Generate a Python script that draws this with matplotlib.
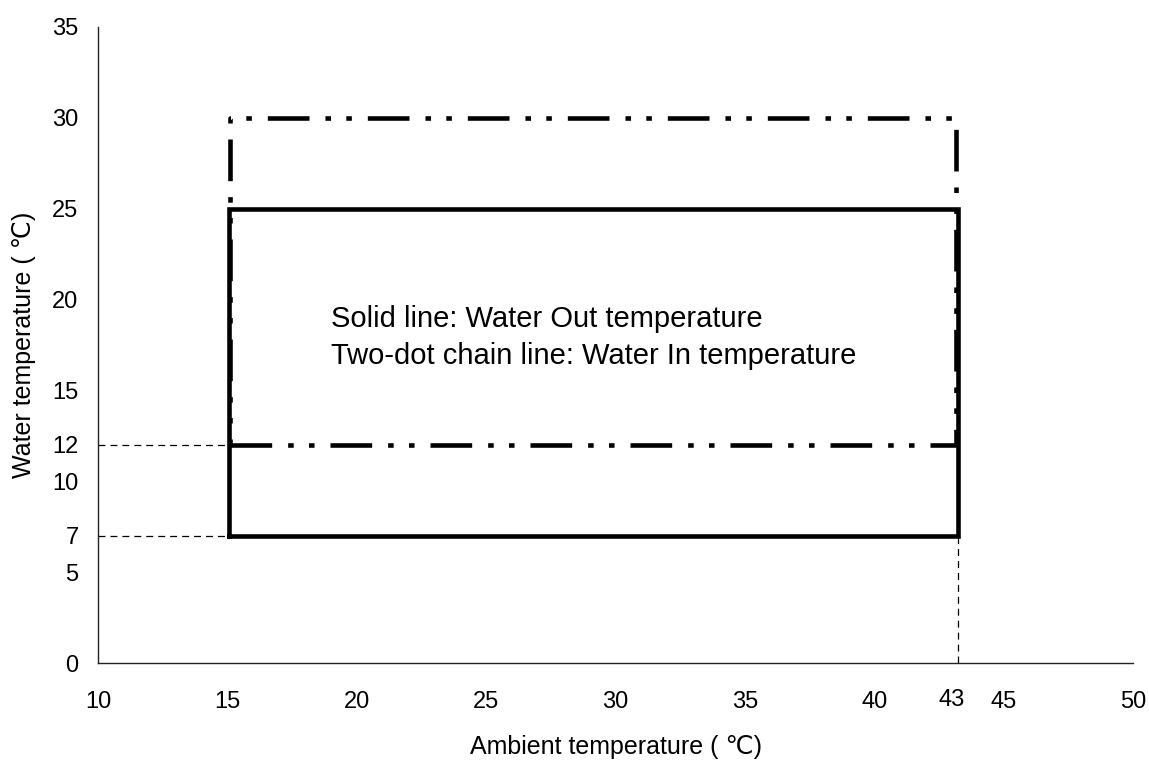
import matplotlib.pyplot as plt

plt.rcParams['font.family'] = ['Liberation Sans', 'DejaVu Sans']
plt.rcParams['lines.scale_dashes'] = False

# Water Out range (solid)
out_x = [15.05, 43.25, 43.25, 15.05, 15.05]
out_y = [7, 7, 25, 25, 7]
# Water In range (two-dot chain)
in_x = [15.12, 43.15, 43.15, 15.12, 15.12]
in_y = [12, 12, 30, 30, 12]

x_ticks = [10, 15, 20, 25, 30, 35, 40, 45, 50]
y_ticks = [0, 5, 7, 10, 12, 15, 20, 25, 30, 35]

fig = plt.figure(figsize=(11.49, 7.62), dpi=100)
ax = fig.add_axes([0.0853, 0.1299, 0.9008, 0.8347])

ax.plot(out_x, out_y, color='black', lw=3.3, solid_joinstyle='miter')
ax.plot(in_x, in_y, color='black', lw=3.3, dashes=[30, 11.5, 4, 11, 4, 11.5])

# guide lines
ax.plot([10, 15.05], [12, 12], color='black', lw=0.9, dashes=[5, 3.6])
ax.plot([10, 15.05], [7, 7], color='black', lw=0.9, dashes=[5, 3.6])
ax.plot([43.25, 43.25], [0, 7], color='black', lw=0.9, dashes=[5, 3.6])

ax.set_xlim(10, 50)
ax.set_ylim(0, 35)
ax.set_xticks(x_ticks)
ax.set_yticks(y_ticks)
ax.tick_params(length=0, labelsize=17)
ax.tick_params(axis='x', pad=20)
ax.tick_params(axis='y', pad=14)
ax.annotate('43', xy=(43, 0), xytext=(0, -19), textcoords='offset points',
            ha='center', va='top', fontsize=17)

for s in ['top', 'right']:
    ax.spines[s].set_visible(False)
for s in ['left', 'bottom']:
    ax.spines[s].set_linewidth(1)
    ax.spines[s].set_color('#222222')

ax.text(19.02, 17.9, 'Solid line: Water Out temperature\nTwo-dot chain line: Water In temperature',
        fontsize=21, va='center', ha='left', linespacing=1.4)

ax.set_xlabel('Ambient temperature ( ℃)', fontsize=18, labelpad=16)
ax.set_ylabel('Water temperature ( ℃)', fontsize=18, labelpad=12)

fig.savefig('out.png', dpi=100)
